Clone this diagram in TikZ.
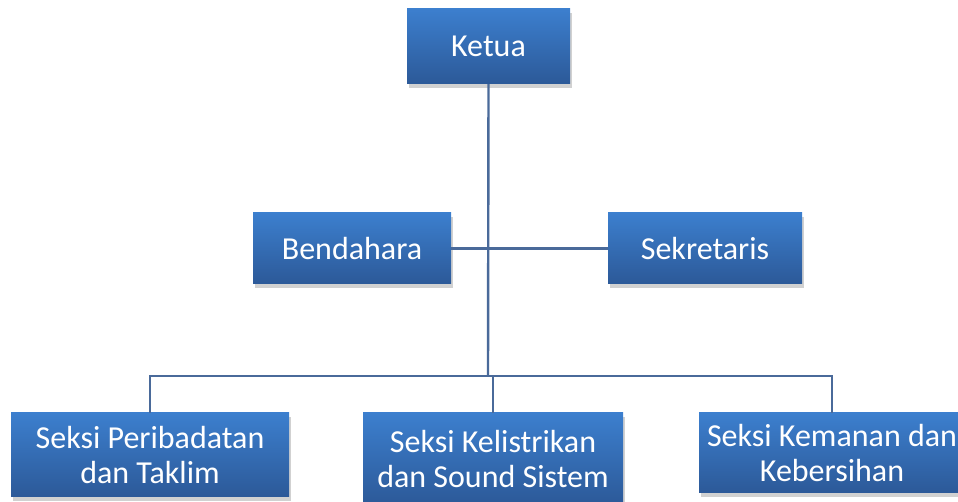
\documentclass[tikz,border=0pt]{standalone}
\usepackage{fontspec}
\setmainfont{Carlito}
\usetikzlibrary{shadows}
\definecolor{boxtop}{RGB}{60,127,206}
\definecolor{boxbot}{RGB}{44,89,152}
\definecolor{linec}{RGB}{74,106,154}
\tikzset{
  orgbox/.style={rectangle, inner sep=0pt, align=center, text=white,
    top color=boxtop, bottom color=boxbot, draw=none,
    font=\fontsize{32}{35}\selectfont,
    drop shadow={shadow xshift=2pt, shadow yshift=-4pt, opacity=0.3, fill=black!60}},
  conn/.style={draw=linec, line width=2.4pt}
}
\begin{document}
\begin{tikzpicture}[x=1pt,y=1pt]
\useasboundingbox (0,0) rectangle (958,502);
\node[orgbox, minimum width=163pt, minimum height=75pt] (ketua) at (488.5,455.5) {Ketua};
\node[orgbox, minimum width=198pt, minimum height=71pt] (bend) at (352,253.5) {Bendahara};
\node[orgbox, minimum width=194pt, minimum height=71pt] (sekr) at (705,253.5) {Sekretaris};
\node[orgbox, minimum width=278pt, minimum height=84pt] (left) at (150,47) {Seksi Peribadatan\\dan Taklim};
\node[orgbox, minimum width=260pt, minimum height=92pt] (mid) at (493,43) {Seksi Kelistrikan\\dan Sound Sistem};
\node[orgbox, minimum width=266pt, minimum height=80pt] (right) at (832,49) {Seksi Kemanan dan\\Kebersihan};
\coordinate (bus) at (488,126);
\draw[conn] (ketua.south) -- (bus);
\draw[conn] (bend.east) -- (sekr.west);
\draw[conn] (left.north) -- (left.north |- bus) -- (right.north |- bus) -- (right.north);
\draw[conn] (mid.north) -- (mid.north |- bus);
\end{tikzpicture}
\end{document}
